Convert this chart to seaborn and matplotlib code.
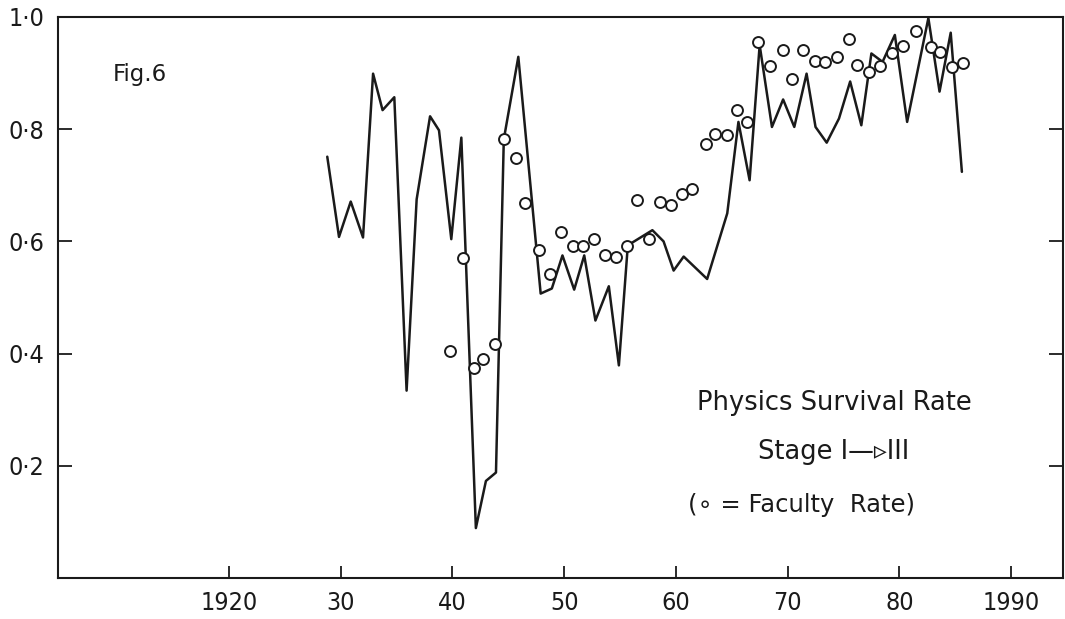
import matplotlib
matplotlib.use("Agg")
import matplotlib.pyplot as plt
import seaborn as sns
import pandas as pd
from matplotlib.ticker import FixedLocator, FixedFormatter

# ---- data ----
line_years = [1928.8, 1929.85, 1930.9, 1932.0, 1932.9, 1933.75, 1934.8, 1935.9,
              1936.8, 1938.0, 1938.8, 1939.9, 1940.8, 1942.1, 1943.0, 1943.9,
              1944.6, 1945.9, 1947.9, 1948.9, 1949.85, 1950.9, 1951.8, 1952.8,
              1954.0, 1954.9, 1955.7, 1957.9, 1958.9, 1959.8, 1960.7, 1962.8,
              1964.6, 1965.6, 1966.6, 1967.5, 1968.6, 1969.6, 1970.6, 1971.7,
              1972.5, 1973.5, 1974.6, 1975.6, 1976.6, 1977.5, 1978.5, 1979.6,
              1980.7, 1982.6, 1983.6, 1984.6, 1985.6]
line_rate = [0.751, 0.608, 0.671, 0.607, 0.899, 0.834, 0.857, 0.334,
             0.675, 0.823, 0.798, 0.604, 0.785, 0.089, 0.173, 0.188,
             0.782, 0.929, 0.507, 0.516, 0.575, 0.514, 0.575, 0.459,
             0.520, 0.379, 0.593, 0.620, 0.600, 0.548, 0.573, 0.533,
             0.650, 0.813, 0.709, 0.950, 0.804, 0.853, 0.804, 0.899,
             0.804, 0.776, 0.819, 0.885, 0.807, 0.935, 0.920, 0.968,
             0.813, 0.998, 0.867, 0.972, 0.724]

faculty_years = [1939.76, 1940.98, 1941.93, 1942.71, 1943.84, 1944.62, 1945.69,
                 1946.53, 1947.78, 1948.71, 1949.72, 1950.77, 1951.72, 1952.68,
                 1953.66, 1954.65, 1955.6, 1956.55, 1957.63, 1958.59, 1959.54,
                 1960.58, 1961.45, 1962.7, 1963.54, 1964.56, 1965.45, 1966.35,
                 1967.33, 1968.43, 1969.57, 1970.43, 1971.41, 1972.49, 1973.38,
                 1974.4, 1975.53, 1976.25, 1977.32, 1978.28, 1979.33, 1980.37,
                 1981.5, 1982.85, 1983.65, 1984.75, 1985.68]
faculty_rate = [0.405, 0.571, 0.374, 0.391, 0.417, 0.782, 0.748,
                0.669, 0.584, 0.541, 0.617, 0.592, 0.592, 0.605,
                0.575, 0.573, 0.592, 0.674, 0.604, 0.671, 0.664,
                0.684, 0.693, 0.773, 0.792, 0.790, 0.834, 0.813,
                0.955, 0.913, 0.941, 0.890, 0.941, 0.922, 0.920,
                0.929, 0.961, 0.914, 0.902, 0.913, 0.935, 0.948,
                0.975, 0.947, 0.937, 0.911, 0.918]

x_ticks = [1920, 1930, 1940, 1950, 1960, 1970, 1980, 1990]
x_tick_labels = ["1920", "30", "40", "50", "60", "70", "80", "1990"]
y_ticks = [0.2, 0.4, 0.6, 0.8, 1.0]
y_tick_labels = ["0\u00b72", "0\u00b74", "0\u00b76", "0\u00b78", "1\u00b70"]

line_df = pd.DataFrame({"year": line_years, "rate": line_rate})
fac_df = pd.DataFrame({"year": faculty_years, "rate": faculty_rate})

sns.set_theme(style="white")
FONT = ["DejaVu Sans"]
plt.rcParams["font.family"] = FONT

fig = plt.figure(figsize=(10.65, 6.19), dpi=100)
ax = fig.add_axes([58 / 1065, 1 - 578 / 619, 1005 / 1065, 561 / 619])

sns.lineplot(data=line_df, x="year", y="rate", ax=ax, color="#1a1a1a",
             linewidth=1.8, sort=False)
sns.scatterplot(data=fac_df, x="year", y="rate", ax=ax, marker="o",
                facecolor="white", edgecolor="#1a1a1a", linewidth=1.4, s=62,
                zorder=3)

ax.set_xlim(1904.7, 1994.65)
ax.set_ylim(0.0, 1.0)
ax.set_xlabel("")
ax.set_ylabel("")

ax.xaxis.set_major_locator(FixedLocator(x_ticks))
ax.xaxis.set_major_formatter(FixedFormatter(x_tick_labels))
ax.yaxis.set_major_locator(FixedLocator(y_ticks))
ax.yaxis.set_major_formatter(FixedFormatter(y_tick_labels))

ax.tick_params(axis="x", direction="in", length=9, width=1.3, pad=9,
               labelsize=18, colors="#1a1a1a", bottom=True, top=False)
ax.tick_params(axis="y", direction="in", length=10, width=1.3, pad=10,
               labelsize=18, colors="#1a1a1a", left=True, right=True,
               labelright=False)
for lab in ax.get_xticklabels() + ax.get_yticklabels():
    lab.set_fontstretch("condensed")

for side in ["left", "bottom", "top", "right"]:
    ax.spines[side].set_visible(True)
    ax.spines[side].set_color("#1a1a1a")
    ax.spines[side].set_linewidth(1.5)

txt_kw = dict(transform=ax.transAxes, color="#1a1a1a", family=FONT,
              va="center", ha="left")
ax.text(0.054, 0.897, "Fig.6", fontsize=16.5, **txt_kw)
ax.text(0.636, 0.312, "Physics Survival Rate", fontsize=18.5, **txt_kw)
ax.text(0.697, 0.225, "Stage I\u2014\u25b9III", fontsize=18.5, **txt_kw)
ax.text(0.627, 0.13, "(\u2218 = Faculty  Rate)", fontsize=17.5, **txt_kw)

fig.savefig("out.png", dpi=100, facecolor="white")
